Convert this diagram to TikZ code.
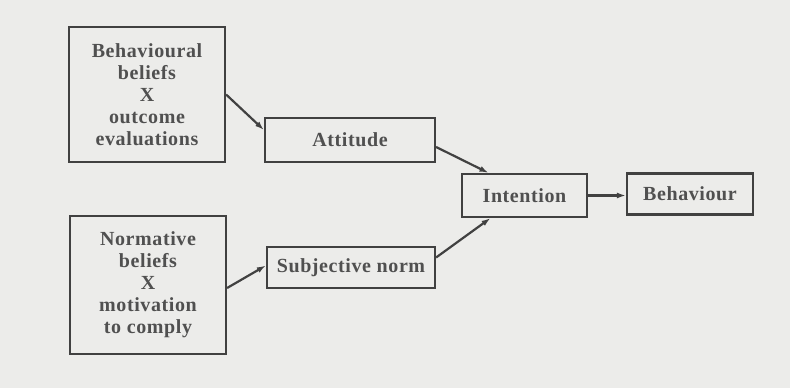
\documentclass[tikz,border=0pt]{standalone}
\usepackage{fontspec}
\setmainfont{Liberation Serif}[LetterSpace=3]
\usetikzlibrary{arrows.meta}
\definecolor{bgc}{RGB}{236,236,234}
\definecolor{ink}{RGB}{65,65,65}
\definecolor{txt}{RGB}{80,80,80}
\begin{document}
\begin{tikzpicture}[x=1pt,y=-1pt,
  box/.style={draw=ink,line width=2.2pt,fill=none,inner sep=0pt,align=center,
    text=txt,font=\fontsize{20}{22}\selectfont\bfseries},
  arr/.style={draw=ink,line width=2.2pt,-{Latex[length=9pt,width=6pt]}}]
\fill[bgc] (0,0) rectangle (790,388);
\useasboundingbox (0,0) rectangle (790,388);
\node[box,minimum width=156pt,minimum height=135pt] (b1) at (147,94.5)
  {Behavioural\\beliefs\\X\\outcome\\evaluations};
\node[box,minimum width=156pt,minimum height=138pt] (b2) at (148,285)
  {Normative\\beliefs\\X\\motivation\\to comply};
\node[box,minimum width=170pt,minimum height=44pt] (att) at (350,140) {Attitude};
\node[box,minimum width=168pt,minimum height=41pt] (sn) at (351,267.5) {Subjective norm};
\node[box,minimum width=125pt,minimum height=43pt] (int) at (524.5,195.5) {Intention};
\node[box,minimum width=126pt,minimum height=41pt] (beh) at (690,194) {Behaviour};
\draw[arr] (b1.east) -- ([yshift=10pt]att.west);
\draw[arr] ([yshift=-3pt]b2.east) -- ([yshift=2pt]sn.west);
\draw[arr] ([yshift=-7pt]att.east) -- ([xshift=-36pt]int.north);
\draw[arr] ([yshift=10pt]sn.east) -- ([xshift=-34pt]int.south);
\draw[arr] (int.east) -- (int.east -| beh.west);
\end{tikzpicture}
\end{document}
